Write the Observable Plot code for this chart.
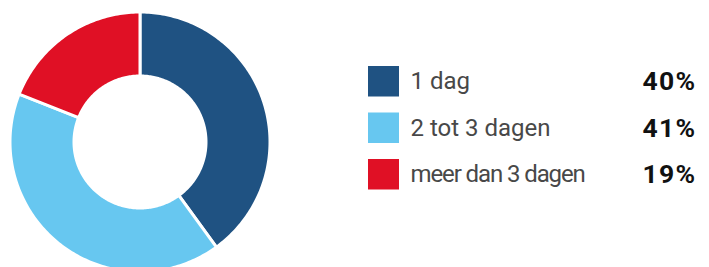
<!DOCTYPE html>
<html>
<head>
<meta charset="utf-8">
<script src="https://cdn.jsdelivr.net/npm/d3@7"></script>
<script src="https://cdn.jsdelivr.net/npm/@observablehq/plot@0.6"></script>
<style>
  html, body { margin: 0; padding: 0; background: #fff; }
  #chart svg { display: block; }
</style>
</head>
<body>
<div id="chart"></div>
<script>
const categories = ["1 dag", "2 tot 3 dagen", "meer dan 3 dagen"];
const values = [40, 41, 19];
const percentLabels = ["40%", "41%", "19%"];
const colors = ["#1f5282", "#67c7f0", "#e01025"];

// layout
const W = 709, H = 267;
const cx = 139.5, cy = 141.5, R = 130, r = 66;
const total = d3.sum(values);

const pieData = [];
let acc = 0;
categories.forEach((cat, i) => {
  const a0 = acc / total * 2 * Math.PI;
  acc += values[i];
  const a1 = acc / total * 2 * Math.PI;
  const n = Math.max(4, Math.ceil((a1 - a0) / (Math.PI / 180)));
  const pts = [];
  for (let k = 0; k <= n; k++) {
    const a = a0 + (a1 - a0) * k / n;
    pts.push({cat, x: cx + R * Math.sin(a), y: cy - R * Math.cos(a)});
  }
  for (let k = n; k >= 0; k--) {
    const a = a0 + (a1 - a0) * k / n;
    pts.push({cat, x: cx + r * Math.sin(a), y: cy - r * Math.cos(a)});
  }
  pieData.push(...pts);
});

const rowTop0 = 66, rowStep = 46.5, sq = 30.5;
const legend = categories.map((cat, i) => ({
  cat, pct: percentLabels[i],
  y1: rowTop0 + i * rowStep, y2: rowTop0 + i * rowStep + sq,
  yc: rowTop0 + i * rowStep + sq / 2
}));

const pctSpacing = 1.2;

const chart = Plot.plot({
  width: W, height: H,
  margin: 0,
  x: {domain: [0, W], range: [0, W], axis: null},
  y: {domain: [0, H], range: [0, H], axis: null},
  color: {domain: categories, range: colors},
  style: {fontFamily: "Roboto, sans-serif", background: "#fff"},
  marks: [
    Plot.line(pieData, {x: "x", y: "y", z: "cat", fill: "cat", stroke: "white", strokeWidth: 3, curve: "linear-closed"}),
    Plot.rect(legend, {x1: 368, x2: 399, y1: "y1", y2: "y2", fill: "cat"}),
    Plot.text(legend, {x: 410, y: "yc", text: "cat", textAnchor: "start", lineAnchor: "middle", fontSize: 24, fill: "#484848"}),
    Plot.text(legend, {x: 694.5 + pctSpacing, y: "yc", text: "pct", textAnchor: "end", lineAnchor: "middle", fontSize: 26.5, fontWeight: "bold", fill: "#111"})
  ]
});
// typographic tweaks: tighter third label, slightly spaced percentages
d3.select(chart).selectAll("text")
  .filter(function() { return this.textContent === categories[2]; })
  .style("letter-spacing", "-1.1px");
d3.select(chart).selectAll("text")
  .filter(function() { return percentLabels.includes(this.textContent); })
  .style("letter-spacing", pctSpacing + "px");
document.getElementById("chart").appendChild(chart);
</script>
</body>
</html>
